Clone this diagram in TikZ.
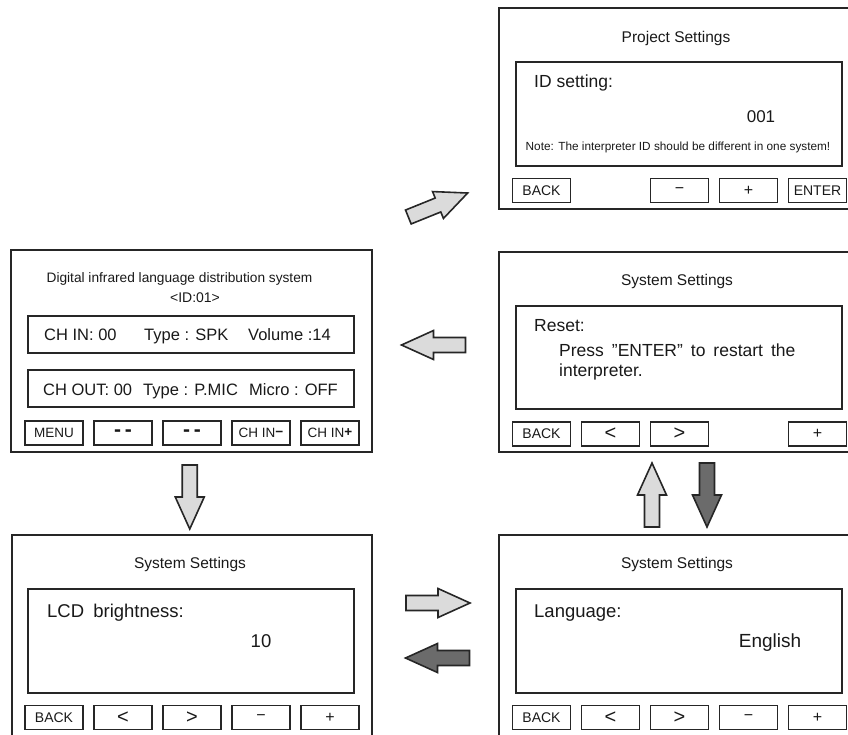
\documentclass[tikz,border=0pt]{standalone}
\usepackage{fontspec}
\setmainfont{Liberation Sans}
\usepackage{tikz}
\usetikzlibrary{positioning}
\usetikzlibrary{calc}

\definecolor{frame}{gray}{0.15}
\definecolor{arrowlight}{gray}{0.86}
\definecolor{arrowdark}{gray}{0.42}

\newcommand{\fs}[1]{\fontsize{#1}{#1}\selectfont}
\newcommand{\dashes}{\textbf{-\hspace{4pt}-}}
\newcommand{\chminus}{CH IN\raisebox{1pt}{\textbf{−}}}
\newcommand{\chplus}{CH IN\raisebox{1pt}{\textbf{+}}}
\newcommand{\qt}{\symbol{34}}

\tikzset{
    screen/.style={draw=frame, line width=2.4pt, inner sep=0pt},
    pane/.style={draw=frame, line width=2.2pt},
    btn/.style={draw=frame, line width=1.8pt, minimum width=58pt, minimum height=24pt, inner sep=0pt, text=black!90},
    txt/.style={inner sep=0pt, text=black!90},
    title/.style={txt, anchor=base, font=\fs{15.5}},
    lightarrow/.style={fill=arrowlight, draw=black!85, line width=1.6pt},
    darkarrow/.style={fill=arrowdark, draw=black!85, line width=1.6pt},
    fatarrow/.pic={\filldraw[pic actions] (-32,-7.5) -- (0,-7.5) -- (0,-14.5) -- (32,0) -- (0,14.5) -- (0,7.5) -- (-32,7.5) -- cycle;},
}

\begin{document}
\begin{tikzpicture}[x=1pt, y=-1pt, line join=miter]
    \useasboundingbox (0,0) rectangle (848,734);
    \clip (0,0) rectangle (848,734);

    % screens
    \node[screen, minimum width=361pt, minimum height=202pt] (main) at (191.5,351) {};
    \node[screen, minimum width=371pt, minimum height=201pt] (proj) at (684.5,108.5) {};
    \node[screen, minimum width=371pt, minimum height=200pt] (reset) at (684.5,352) {};
    \node[screen, minimum width=360pt, minimum height=215pt] (lcd) at (192,642.5) {};
    \node[screen, minimum width=371pt, minimum height=215pt] (lang) at (684.5,642.5) {};

    % main screen
    \node[txt, anchor=base, font=\fs{13.7}] (main-head) at (179.5,282) {Digital infrared language distribution system};
    \node[txt, anchor=base, font=\fs{14}] (main-id) at (195,302) {<ID:01>};
    \draw[pane] (28,316) rectangle (354,353);
    \draw[pane] (28,370) rectangle (354,407);
    \node[txt, anchor=base west, font=\fs{16.5}] (in-ch) at (44,340) {CH IN: 00};
    \node[txt, anchor=base west, font=\fs{16.5}] (in-type) at (144,340) {Type : SPK};
    \node[txt, anchor=base west, font=\fs{16.5}] (in-vol) at (248,340) {Volume :14};
    \node[txt, anchor=base west, font=\fs{16.5}] (out-ch) at (43,395) {CH OUT: 00};
    \node[txt, anchor=base west, font=\fs{16.5}] (out-type) at (143,395) {Type : P.MIC};
    \node[txt, anchor=base west, font=\fs{16.5}] (out-mic) at (249,395) {Micro : OFF};
    \foreach \lbl/\f [count=\i from 0] in {MENU/13.5, \dashes/21, \dashes/21, \chminus/13.5, \chplus/13.5}
        \node[btn, font=\fs{\f}] (main-b\i) at (54+69*\i,433) {\lbl};

    % project settings
    \node[title] (proj-title) at (676,42) {Project Settings};
    \draw[pane] (516,62) rectangle (842,166);
    \node[txt, anchor=base west, font=\fs{17.5}] (proj-label) at (534,87) {ID setting:};
    \node[txt, anchor=base, font=\fs{17}] (proj-val) at (761,122) {001};
    \node[txt, anchor=base, font=\fs{11.8}] (proj-note) at (678,150) {Note: The interpreter ID should be different in one system!};
    \foreach \i/\lbl/\f in {0/BACK/14, 2/−/16, 3/+/16, 4/ENTER/14}
        \node[btn, font=\fs{\f}] (proj-b\i) at (541.5+69*\i,190.5) {\lbl};

    % reset
    \node[title] (reset-title) at (677,285) {System Settings};
    \draw[pane] (516,306) rectangle (842,409);
    \node[txt, anchor=base west, font=\fs{17.5}] (reset-label) at (534,331) {Reset:};
    \node[txt, anchor=base west, font=\fs{17.5}] (reset-l1) at (559,356) {\spaceskip=8pt\relax Press \qt ENTER\qt{} to restart the};
    \node[txt, anchor=base west, font=\fs{17.5}] (reset-l2) at (559,376) {interpreter.};
    \foreach \i/\lbl/\f in {0/BACK/14, 1/</20, 2/>/20, 4/+/16}
        \node[btn, font=\fs{\f}] (reset-b\i) at (541.5+69*\i,434) {\lbl};

    % lcd brightness
    \node[title] (lcd-title) at (190,568) {System Settings};
    \draw[pane] (28,589) rectangle (354,693);
    \node[txt, anchor=base west, font=\fs{18.5}] (lcd-label) at (47,617) {LCD\hspace{4pt} brightness:};
    \node[txt, anchor=base, font=\fs{18.5}] (lcd-val) at (261,647) {10};
    \foreach \lbl/\f [count=\i from 0] in {BACK/14, </20, >/20, −/16, +/16}
        \node[btn, font=\fs{\f}] (lcd-b\i) at (54+69*\i,717.5) {\lbl};

    % language
    \node[title] (lang-title) at (677,568) {System Settings};
    \draw[pane] (516,589) rectangle (842,693);
    \node[txt, anchor=base west, font=\fs{18.5}] (lang-label) at (534,617) {Language:};
    \node[txt, anchor=base, font=\fs{19}] (lang-val) at (770,647) {English};
    \foreach \lbl/\f [count=\i from 0] in {BACK/14, </20, >/20, −/16, +/16}
        \node[btn, font=\fs{\f}] (lang-b\i) at (541.5+69*\i,717.5) {\lbl};

    % arrows between screens
    \pic[lightarrow, rotate=22] at (438,205) {fatarrow};
    \pic[lightarrow, rotate=180] at ($(main.east)!0.5!(reset.west)+(-2,-6.5)$) {fatarrow};
    \pic[lightarrow, rotate=-90] at ($(main.south)!0.5!(lcd.north)+(-2,3.5)$) {fatarrow};
    \pic[lightarrow, rotate=90] at (652,495) {fatarrow};
    \pic[darkarrow, rotate=-90] at (707,495) {fatarrow};
    \pic[lightarrow] at (438,603) {fatarrow};
    \pic[darkarrow, rotate=180] at (437.5,658) {fatarrow};
\end{tikzpicture}
\end{document}
